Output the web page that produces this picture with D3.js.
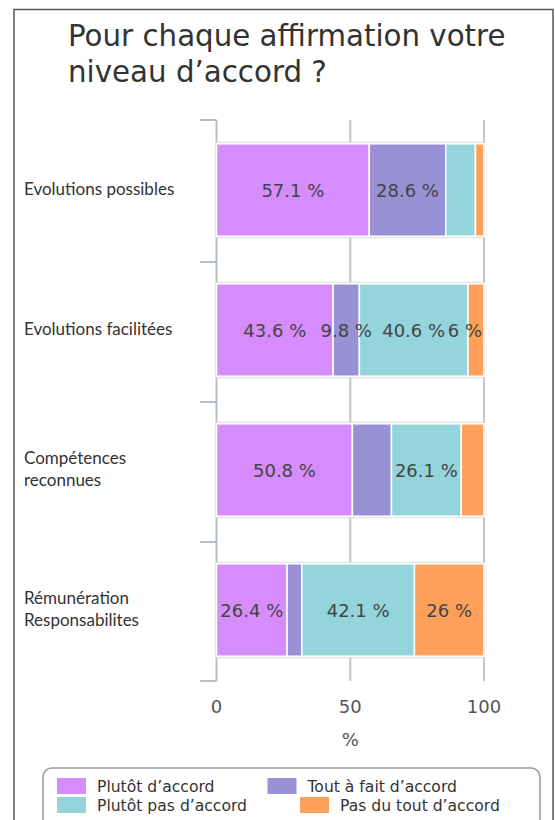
<!DOCTYPE html>
<html>
<head>
<meta charset="utf-8">
<script src="https://cdn.jsdelivr.net/npm/d3@7"></script>
<style>
	body { margin: 0; background: #fff; }
	svg { display: block; }
	.title { font-family: "DejaVu Sans", sans-serif; font-size: 29.3px; fill: #333; }
	.cat { font-family: Lato, "Open Sans", sans-serif; font-size: 17px; fill: #333; }
	.val { font-family: "DejaVu Sans", sans-serif; font-size: 18px; fill: #444; }
	.tick-lbl { font-family: "DejaVu Sans", sans-serif; font-size: 18px; fill: #555; }
	.leg { font-family: "DejaVu Sans", sans-serif; font-size: 15.6px; fill: #333; }
</style>
</head>
<body>
<svg id="chart"></svg>
<script>
// data
let categories = [
	["Evolutions possibles"],
	["Evolutions facilitées"],
	["Compétences", "reconnues"],
	["Rémunération", "Responsabilites"]
];
let seriesNames = ["Plutôt d’accord", "Tout à fait d’accord", "Plutôt pas d’accord", "Pas du tout d’accord"];
let seriesColors = ["#d68cfd", "#9891d3", "#94d5dc", "#ffa05a"];
let plutotAccord = [57.1, 43.6, 50.8, 26.4];
let toutAFait = [28.6, 9.8, 14.6, 5.5];
let plutotPas = [11.1, 40.6, 26.1, 42.1];
let pasDuTout = [3.2, 6, 8.5, 26];
// which values are printed on the bars
let showLabel = [
	[true, true, false, false],
	[true, true, true, true],
	[true, false, true, false],
	[true, false, true, true]
];
let xTicks = [0, 50, 100];

let w = 555, h = 820;
let chart, xScale, yScale;

function makeChart() {
	chart = d3.select('#chart').attr('width', w).attr('height', h);

	// outer frame
	chart.append('path')
		.attr('d', `M14,${h + 5} V9.5 H553 V${h + 5}`)
		.attr('fill', 'none')
		.attr('stroke', '#555')
		.attr('stroke-width', 1.5);

	// title
	let title = chart.append('text').attr('class', 'title');
	title.append('tspan').attr('x', 68).attr('y', 46).text('Pour chaque affirmation votre');
	title.append('tspan').attr('x', 68).attr('y', 82).text('niveau d’accord ?');

	xScale = d3.scaleLinear().domain([0, 100]).range([216.5, 484]);
	yScale = d3.scaleBand().domain(d3.range(categories.length)).range([120, 680]).paddingInner(0.34).paddingOuter(0.17);

	let top = 120, bottom = 681;
	let band = (yScale.range()[1] - yScale.range()[0]) / categories.length;

	// vertical grid
	chart.append('g').selectAll('line')
		.data(xTicks.slice(1))
		.enter().append('line')
		.attr('x1', (d) => xScale(d)).attr('x2', (d) => xScale(d))
		.attr('y1', top).attr('y2', bottom)
		.attr('stroke', '#c4c4c4').attr('stroke-width', 2);

	// left axis line + ticks between categories
	chart.append('line')
		.attr('x1', xScale(0)).attr('x2', xScale(0))
		.attr('y1', top).attr('y2', bottom)
		.attr('stroke', '#b5bfca').attr('stroke-width', 2);
	chart.append('g').selectAll('line')
		.data(d3.range(categories.length + 1))
		.enter().append('line')
		.attr('x1', 200).attr('x2', xScale(0))
		.attr('y1', (i) => i == categories.length ? bottom : top + i * band + (i > 0 ? 2 : 0))
		.attr('y2', (i) => i == categories.length ? bottom : top + i * band + (i > 0 ? 2 : 0))
		.attr('stroke', '#b5bfca').attr('stroke-width', 2);

	// stacked data
	let rows = categories.map((c, i) => {
		let vals = [plutotAccord[i], toutAFait[i], plutotPas[i], pasDuTout[i]];
		let x0 = 0;
		return vals.map((v, j) => {
			let seg = {row: i, s: j, v: v, x0: x0, x1: x0 + v, show: showLabel[i][j]};
			x0 += v;
			return seg;
		});
	});

	// light outline around each bar row
	chart.append('g').selectAll('rect')
		.data(d3.range(categories.length))
		.enter().append('rect')
		.attr('x', xScale(0))
		.attr('y', (i) => yScale(i) - 1.5)
		.attr('width', xScale(100) - xScale(0))
		.attr('height', yScale.bandwidth() + 3)
		.attr('fill', 'none')
		.attr('stroke', '#dcdcdc');

	let segs = rows.flat();
	chart.append('g').selectAll('rect')
		.data(segs)
		.enter().append('rect')
		.attr('x', (d) => xScale(d.x0))
		.attr('y', (d) => yScale(d.row))
		.attr('width', (d) => xScale(d.x1) - xScale(d.x0))
		.attr('height', yScale.bandwidth())
		.attr('fill', (d) => seriesColors[d.s])
		.attr('stroke', '#fff')
		.attr('stroke-width', 1.5);

	// value labels, pushed back inside the plot if they overflow on the right
	chart.append('g').selectAll('text')
		.data(segs.filter((d) => d.show))
		.enter().append('text')
		.attr('class', 'val')
		.attr('y', (d) => yScale(d.row) + yScale.bandwidth() / 2 + 6.5)
		.attr('text-anchor', 'middle')
		.text((d) => d.v + ' %')
		.attr('x', function (d) {
			let half = this.getComputedTextLength() / 2;
			return Math.min(xScale((d.x0 + d.x1) / 2), xScale(100) - 2 - half);
		});

	// category labels
	let cats = chart.append('g').selectAll('text')
		.data(categories)
		.enter().append('text')
		.attr('class', 'cat');
	cats.each(function (lines, i) {
		let cy = yScale(i) + yScale.bandwidth() / 2;
		d3.select(this).selectAll('tspan')
			.data(lines)
			.enter().append('tspan')
			.attr('x', 24)
			.attr('y', (l, k) => cy + 5 + (k - (lines.length - 1) / 2) * 22)
			.text((l) => l);
	});

	// x tick labels
	chart.append('g').selectAll('text')
		.data(xTicks)
		.enter().append('text')
		.attr('class', 'tick-lbl')
		.attr('x', (d) => xScale(d))
		.attr('y', 713)
		.attr('text-anchor', 'middle')
		.text((d) => d);

	chart.append('text')
		.attr('class', 'tick-lbl')
		.attr('x', xScale(50))
		.attr('y', 746)
		.attr('text-anchor', 'middle')
		.text('%');
}

function makeLegend() {
	let lg = chart.append('g');
	lg.append('rect')
		.attr('x', 43).attr('y', 768)
		.attr('width', 497).attr('height', 70)
		.attr('rx', 9)
		.attr('fill', '#fff')
		.attr('stroke', '#999')
		.attr('stroke-width', 1.5);

	// two rows, two items each, laid out in flow
	let perRow = 2;
	let rowY = [778, 797];
	for (let r = 0; r < 2; r++) {
		let x = 57;
		for (let c = 0; c < perRow; c++) {
			let i = r * perRow + c;
			lg.append('rect')
				.attr('x', x).attr('y', rowY[r])
				.attr('width', 29).attr('height', 16)
				.attr('fill', seriesColors[i]);
			let t = lg.append('text')
				.attr('class', 'leg')
				.attr('x', x + 40)
				.attr('y', rowY[r] + 14)
				.text(seriesNames[i]);
			x += 40 + t.node().getComputedTextLength() + 53;
		}
	}
}

makeChart();
makeLegend();
</script>
</body>
</html>
